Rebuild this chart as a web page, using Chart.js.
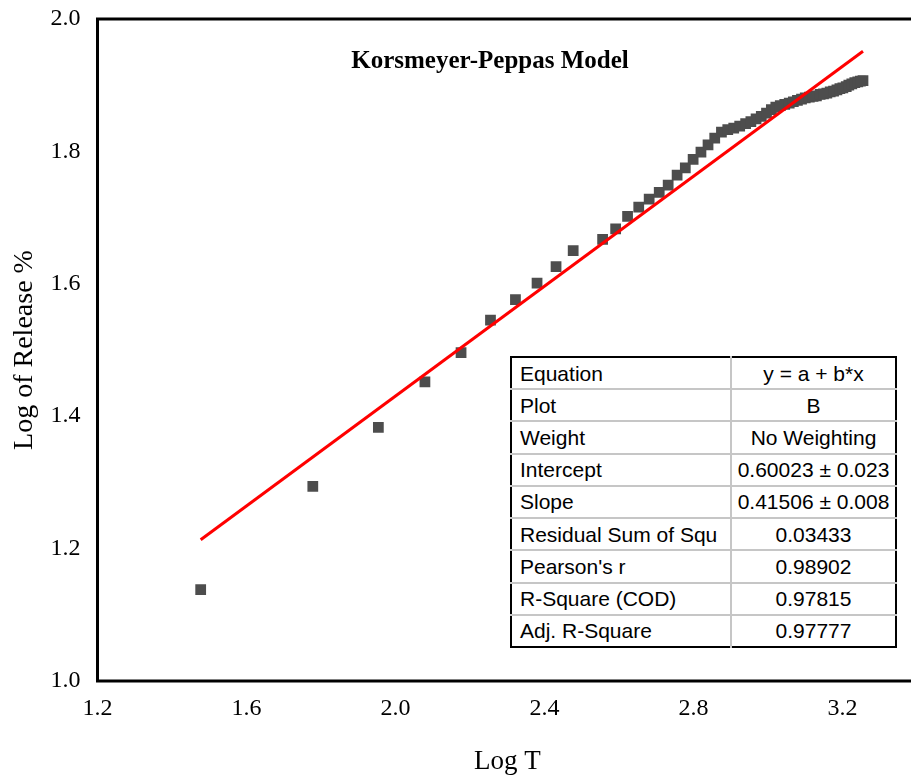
<!DOCTYPE html>
<html>
<head>
<meta charset="utf-8">
<script src="https://cdn.jsdelivr.net/npm/chart.js@4.4.0/dist/chart.umd.min.js"></script>
<style>
  html, body { margin: 0; padding: 0; background: #fff; overflow: hidden; }
  #wrap { position: relative; width: 930px; height: 778px; }
  #fitTable {
    position: absolute; left: 510px; top: 356px; width: 387px; height: 292px;
    border-collapse: collapse; border: 2px solid #000;
    font-family: "Liberation Sans", Arial, sans-serif; font-size: 21px; color: #000;
    background: #fff;
  }
  #fitTable td { border: 2px solid #c6c6c6; padding: 0 0 0 8px; height: 30px; line-height: 21px; white-space: nowrap; }
  #fitTable td.val { text-align: center; padding: 0; width: 163px; }
  #fitTable tr:first-child td { border-top: none; }
  #fitTable tr:last-child td { border-bottom: none; }
  #fitTable td:first-child { border-left: none; }
  #fitTable td:last-child { border-right: none; }
</style>
</head>
<body>
<div id="wrap">
  <canvas id="kpChart" width="930" height="778"></canvas>
  <table id="fitTable"></table>
</div>
<script>
// log of time (min) and log of cumulative release
const logT = [
  1.477, 1.778, 1.954, 2.079, 2.176, 2.255, 2.322, 2.380, 2.431, 2.477,
  2.556, 2.591, 2.623, 2.653, 2.681, 2.708, 2.732, 2.756, 2.778, 2.799,
  2.820, 2.839, 2.857, 2.875, 2.892, 2.908, 2.924, 2.940, 2.954, 2.968,
  2.982, 2.996, 3.009, 3.021, 3.033, 3.045, 3.057, 3.068, 3.079, 3.090,
  3.100, 3.111, 3.121, 3.130, 3.140, 3.149, 3.158, 3.167, 3.176, 3.185,
  3.193, 3.201, 3.210, 3.217, 3.225, 3.233, 3.241, 3.248, 3.255
];
const logRelease = [
  1.138, 1.294, 1.383, 1.452, 1.496, 1.545, 1.576, 1.601, 1.626, 1.650,
  1.667, 1.683, 1.702, 1.716, 1.728, 1.738, 1.749, 1.764, 1.775, 1.788,
  1.799, 1.810, 1.820, 1.829, 1.833, 1.835, 1.838, 1.842, 1.845, 1.849,
  1.853, 1.858, 1.863, 1.867, 1.869, 1.871, 1.873, 1.875, 1.877, 1.879,
  1.881, 1.882, 1.883, 1.884, 1.886, 1.887, 1.888, 1.890, 1.891, 1.893,
  1.895, 1.896, 1.898, 1.900, 1.902, 1.904, 1.905, 1.906, 1.907
];

// linear fit results
const fitIntercept = 0.60023;
const fitSlope = 0.41506;

const statLabels = ['Equation', 'Plot', 'Weight', 'Intercept', 'Slope',
  'Residual Sum of Squ', "Pearson's r", 'R-Square (COD)', 'Adj. R-Square'];
const statValues = ['y = a + b*x', 'B', 'No Weighting', '0.60023 \u00b1 0.023',
  '0.41506 \u00b1 0.008', '0.03433', '0.98902', '0.97815', '0.97777'];

const chartTitle = 'Korsmeyer-Peppas Model';

// stats table
const table = document.getElementById('fitTable');
statLabels.forEach((lab, i) => {
  const tr = document.createElement('tr');
  const a = document.createElement('td');
  a.textContent = lab;
  const b = document.createElement('td');
  b.className = 'val';
  b.textContent = statValues[i];
  tr.appendChild(a);
  tr.appendChild(b);
  table.appendChild(tr);
});

const points = logT.map((x, i) => ({x: x, y: logRelease[i]}));
const xFirst = logT[0], xLast = logT[logT.length - 1];
const fitLine = [
  {x: xFirst, y: fitIntercept + fitSlope * xFirst},
  {x: xLast, y: fitIntercept + fitSlope * xLast}
];

const serif = '"Liberation Serif", "Times New Roman", serif';

// box around plot area + model name inside it
const framePlugin = {
  id: 'frame',
  afterDraw(chart) {
    const {ctx, chartArea: a} = chart;
    ctx.save();
    ctx.strokeStyle = '#000';
    ctx.lineWidth = 3;
    ctx.strokeRect(a.left, a.top, a.right - a.left, a.bottom - a.top);
    ctx.fillStyle = '#000';
    ctx.font = 'bold 25px ' + serif;
    ctx.textAlign = 'center';
    ctx.textBaseline = 'alphabetic';
    ctx.fillText(chartTitle, 490, 68);
    ctx.restore();
  }
};

const bgPlugin = {
  id: 'bg',
  beforeDraw(chart) {
    const ctx = chart.ctx;
    ctx.save();
    ctx.fillStyle = '#fff';
    ctx.fillRect(0, 0, chart.width, chart.height);
    ctx.restore();
  }
};

new Chart(document.getElementById('kpChart').getContext('2d'), {
  type: 'scatter',
  data: {
    datasets: [
      {
        label: 'Fit',
        data: fitLine,
        showLine: true,
        borderColor: '#ff0000',
        borderWidth: 3,
        pointRadius: 0,
        order: 0
      },
      {
        label: 'B',
        data: points,
        pointStyle: 'rect',
        pointRadius: 7.6,
        backgroundColor: '#4d4d4d',
        borderWidth: 0,
        order: 1
      }
    ]
  },
  options: {
    responsive: false,
    animation: false,
    layout: {padding: {top: 19, right: 12, bottom: 0, left: 0}},
    plugins: {
      legend: {display: false},
      tooltip: {enabled: false}
    },
    scales: {
      x: {
        type: 'linear',
        min: 1.2,
        max: 3.4,
        grid: {display: false, drawTicks: false},
        border: {display: false},
        ticks: {
          stepSize: 0.4,
          padding: 13,
          color: '#000',
          font: {family: serif, size: 24},
          // last tick sits past the page edge
          callback: v => (v > 3.3 ? '' : v.toFixed(1))
        },
        title: {
          display: true,
          text: 'Log T',
          color: '#000',
          font: {family: serif, size: 27},
          padding: {top: 0, bottom: 0}
        },
        afterFit: s => { s.height = 97; }
      },
      y: {
        type: 'linear',
        min: 1.0,
        max: 2.0,
        grid: {display: false, drawTicks: false},
        border: {display: false},
        ticks: {
          stepSize: 0.2,
          padding: 17,
          color: '#000',
          font: {family: serif, size: 24},
          callback: v => v.toFixed(1)
        },
        title: {
          display: true,
          text: 'Log of Release %',
          color: '#000',
          font: {family: serif, size: 28},
          padding: {top: 8, bottom: 0}
        },
        afterFit: s => {
          s.width = 97.5;
          s.paddingTop = 0;
          s.paddingBottom = 0;
        }
      }
    }
  },
  plugins: [bgPlugin, framePlugin]
});
</script>
</body>
</html>
